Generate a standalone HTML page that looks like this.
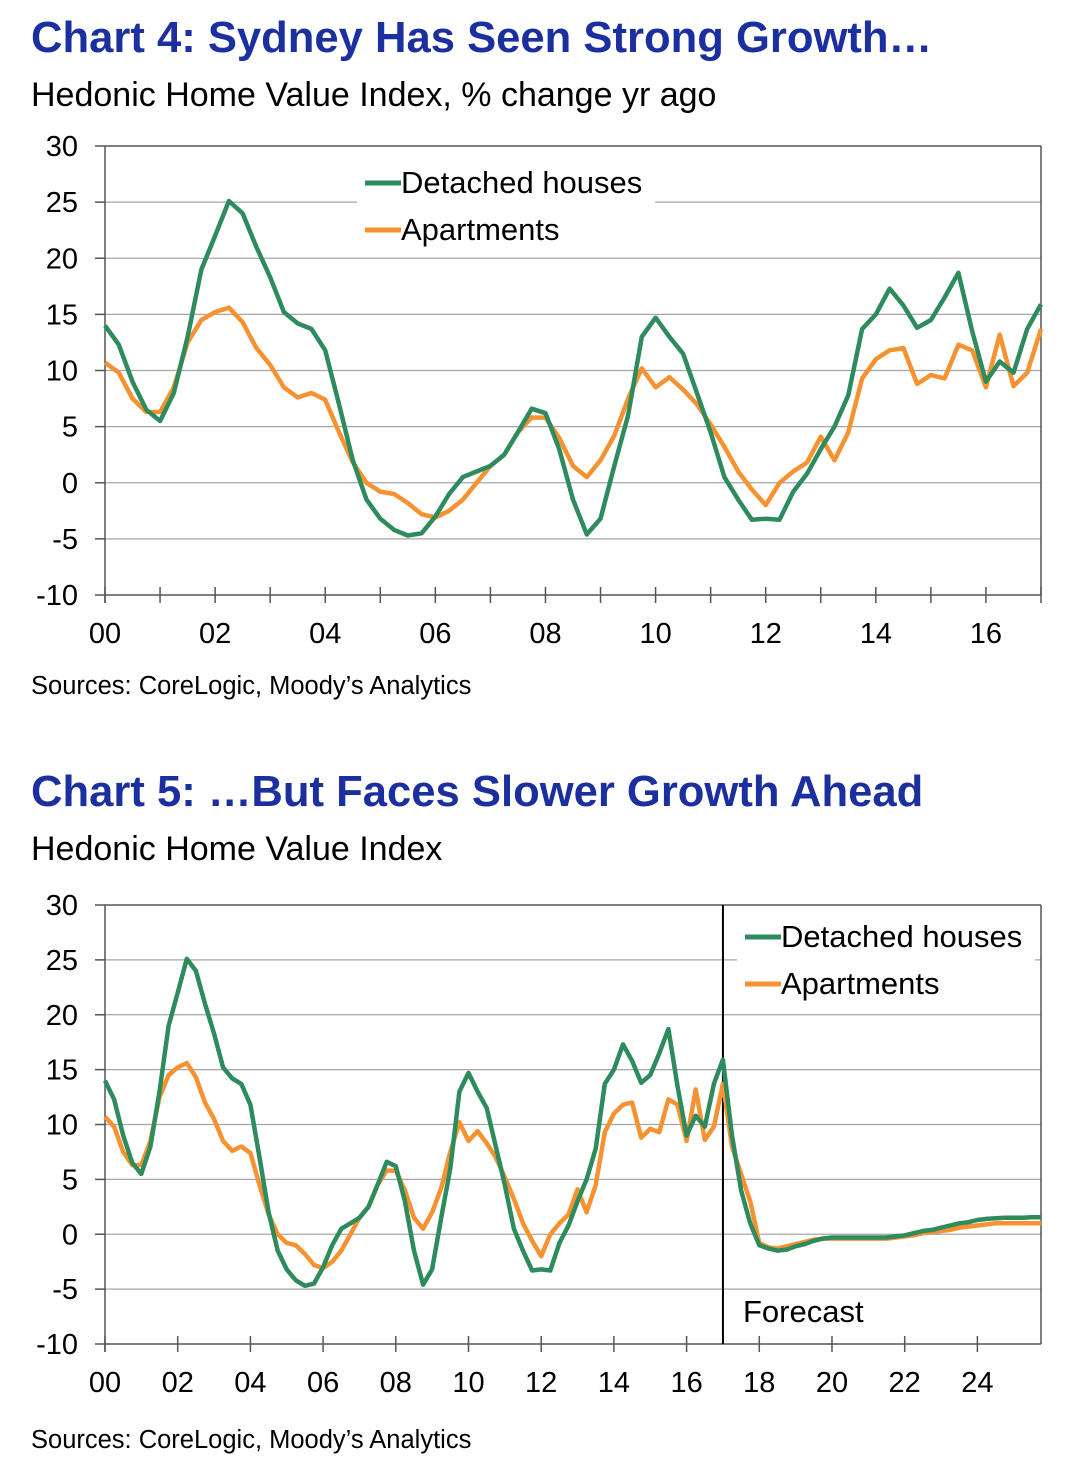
<!DOCTYPE html>
<html><head><meta charset="utf-8">
<style>
body{margin:0;background:#fff;width:1075px;height:1470px;overflow:hidden;font-family:"Liberation Sans",Arial,sans-serif;}
.t{position:absolute;left:31px;font-weight:bold;color:#1b2f9e;font-size:43.6px;}
.s{position:absolute;left:31px;font-size:34px;color:#000;}
.src{position:absolute;left:31px;font-size:25.5px;color:#000;}
svg{position:absolute;left:0;}
</style></head><body>
<div class="t" style="top:14px">Chart 4: Sydney Has Seen Strong Growth…</div>
<div class="s" style="top:76px">Hedonic Home Value Index, % change yr ago</div>
<svg id="c1" width="1075" height="680" style="top:0"></svg>
<div class="src" style="top:672px">Sources: CoreLogic, Moody’s Analytics</div>
<div class="t" style="top:768px">Chart 5: …But Faces Slower Growth Ahead</div>
<div class="s" style="top:830px">Hedonic Home Value Index</div>
<svg id="c2" width="1075" height="1420" style="top:0"></svg>
<div class="src" style="top:1426px">Sources: CoreLogic, Moody’s Analytics</div>
<script>
const houses=[14,12.3,9,6.5,5.5,8,13,19,22,25.1,24,21,18.3,15.2,14.2,13.7,11.8,7,2,-1.5,-3.2,-4.2,-4.7,-4.5,-3,-1,0.5,1,1.5,2.5,4.5,6.6,6.2,3,-1.5,-4.6,-3.2,1.5,6,13,14.7,13,11.5,8,4.5,0.5,-1.5,-3.3,-3.2,-3.3,-0.8,0.8,3,5,7.8,13.7,15,17.3,15.8,13.8,14.5,16.5,18.7,13.5,9,10.8,9.8,13.7,15.9];
const apartments=[10.7,9.8,7.5,6.3,6.3,8.5,12.5,14.5,15.2,15.6,14.3,12,10.5,8.5,7.6,8,7.4,4.5,1.8,0,-0.8,-1,-1.8,-2.8,-3.1,-2.5,-1.5,0,1.5,2.5,4.5,5.8,5.8,4,1.5,0.5,2,4.2,7.5,10.2,8.5,9.4,8.3,7,5.2,3.2,1,-0.6,-2,0,1,1.8,4.1,2,4.5,9.3,11,11.8,12,8.8,9.6,9.3,12.3,11.8,8.5,13.2,8.6,9.8,13.7];
const housesForecast=[9,4,1,-1,-1.3,-1.5,-1.4,-1.1,-0.9,-0.6,-0.4,-0.3,-0.3,-0.3,-0.3,-0.3,-0.3,-0.3,-0.2,-0.1,0.1,0.3,0.4,0.6,0.8,1.0,1.1,1.3,1.4,1.45,1.5,1.5,1.5,1.55,1.55];
const apartmentsForecast=[8,5.5,3,-0.8,-1.2,-1.3,-1.1,-0.9,-0.7,-0.5,-0.4,-0.4,-0.4,-0.4,-0.4,-0.4,-0.4,-0.4,-0.3,-0.2,-0.1,0.1,0.2,0.3,0.4,0.6,0.7,0.8,0.9,1,1,1,1,1,1];
const yTicks=[30,25,20,15,10,5,0,-5,-10];
const xLabels1=["00","02","04","06","08","10","12","14","16"];
const xLabels2=["00","02","04","06","08","10","12","14","16","18","20","22","24"];
const NS="http://www.w3.org/2000/svg";
function mk(svg,tag,attrs,txt){const e=document.createElementNS(NS,tag);for(const k in attrs)e.setAttribute(k,attrs[k]);if(txt!==undefined)e.textContent=txt;svg.appendChild(e);return e;}
function draw(id,top,bottom,maxYears,labels,hs,as,legend,forecast){
  const svg=document.getElementById(id);
  const L=105,R=1041;
  const x=yr=>L+(R-L)*yr/maxYears;
  const y=v=>top+(30-v)/40*(bottom-top);
  for(const v of yTicks){
    if(v!==-10&&v!==30){const g=mk(svg,'line',{x1:L,x2:R,y1:y(v),y2:y(v),stroke:'#a6a6a6','stroke-width':1.3});
    
    }
    mk(svg,'line',{x1:95,x2:L,y1:y(v),y2:y(v),stroke:'#555','stroke-width':1.5});
    const t=mk(svg,'text',{x:78,y:y(v)+10,'text-anchor':'end','font-size':29},String(v));
    
    
  }
  mk(svg,'line',{x1:R,x2:R,y1:top,y2:bottom,stroke:'#555','stroke-width':1.5});
  mk(svg,'line',{x1:L,x2:R,y1:top,y2:top,stroke:'#555','stroke-width':1.5});
  mk(svg,'line',{x1:L,x2:L,y1:top,y2:bottom+8,stroke:'#555','stroke-width':1.5});
  mk(svg,'line',{x1:L,x2:R,y1:bottom,y2:bottom,stroke:'#555','stroke-width':1.5});
  const step=forecast?2:1;
  for(let yr=0;yr<=maxYears;yr+=step){mk(svg,'line',{x1:x(yr),x2:x(yr),y1:bottom-8,y2:bottom+8,stroke:'#555','stroke-width':1.5});}
  labels.forEach((lb,i)=>{const t=mk(svg,'text',{x:x(i*2),y:bottom+48,'text-anchor':'middle','font-size':29},lb);
    
    });
  if(forecast){
    const fl=mk(svg,'line',{x1:x(17),x2:x(17),y1:top,y2:bottom,stroke:'#000','stroke-width':2});
    
    
    const ft=mk(svg,'text',{x:743,y:1322,'font-size':31},'Forecast');
    
    
  }
  mk(svg,'rect',{x:legend.x,y:legend.y,width:legend.w,height:legend.h,fill:'#fff'});
  const pts=a=>a.map((v,i)=>x(i/4).toFixed(1)+','+y(v).toFixed(1)).join(' ');
  const la=mk(svg,'polyline',{points:pts(as),fill:'none',stroke:'#f79232','stroke-width':4.5,'stroke-linejoin':'round'});
  
  
  const lh=mk(svg,'polyline',{points:pts(hs),fill:'none',stroke:'#2e8b5d','stroke-width':4.5,'stroke-linejoin':'round'});
  
  
  const items=[['Detached houses','#2e8b5d'],['Apartments','#f79232']];
  items.forEach((it,i)=>{
    const ly=legend.y+18+i*47;
    const g=mk(svg,'g',{});
    
    
    mk(g,'line',{x1:legend.x+8,x2:legend.x+44,y1:ly,y2:ly,stroke:it[1],'stroke-width':5});
    mk(g,'text',{x:legend.x+44,y:ly+10,'font-size':31},it[0]);
  });
}
draw('c1',146,595,17,xLabels1,houses,apartments,{x:357,y:165,w:298,h:85},false);
draw('c2',905,1344,25.75,xLabels2,houses.concat(housesForecast),apartments.concat(apartmentsForecast),{x:737,y:919,w:298,h:85},true);
</script>
</body></html>
